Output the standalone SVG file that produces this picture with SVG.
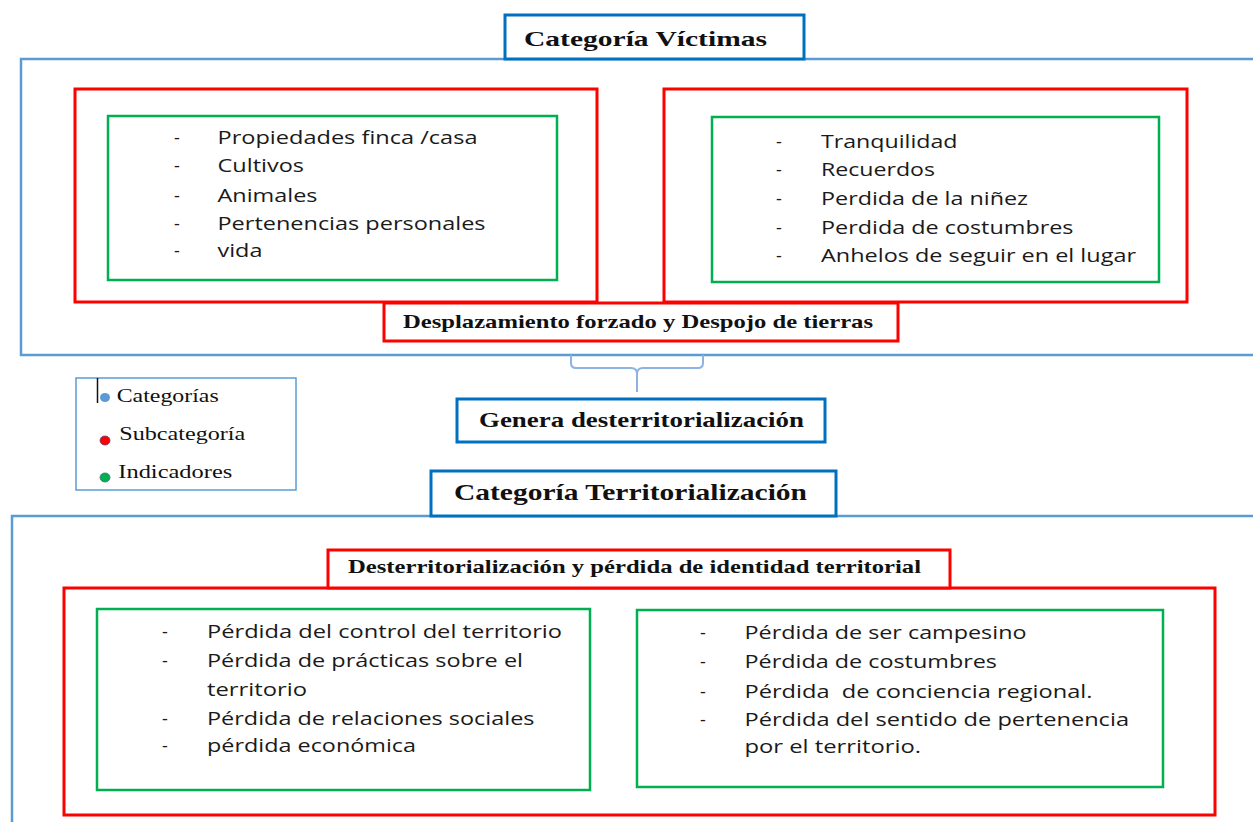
<svg xmlns="http://www.w3.org/2000/svg" width="1253" height="822" viewBox="0 0 1253 822">
<style>
.cat{fill:none;stroke:#5b9bd5;stroke-width:2.5}
.title{fill:#fff;stroke:#0070c0;stroke-width:3}
.sub{fill:none;stroke:#ff0000;stroke-width:3}
.subl{fill:#fff;stroke:#ff0000;stroke-width:3}
.ind{fill:none;stroke:#00b050;stroke-width:2.5}
.tb{font-family:"Liberation Serif","Times New Roman",serif;font-weight:bold;fill:#111}
.tr{font-family:"Liberation Serif","Times New Roman",serif;fill:#111;font-size:19px}
.li{font-family:"Open Sans","Noto Sans","DejaVu Sans",sans-serif;font-size:18px;fill:#1a1a1a}
</style>
<rect width="1253" height="822" fill="#fff"/>
<g id="cat-victimas">
<rect class="cat" x="21" y="59" width="1260" height="296"/>
<rect class="title" x="505" y="15" width="299" height="44"/>
<text class="tb" x="524" y="46" font-size="22" textLength="243" lengthAdjust="spacingAndGlyphs">Categoría Víctimas</text>
</g>
<g id="sub-left-victimas">
<rect class="sub" x="75" y="89" width="522" height="213"/>
</g>
<g id="ind-left-victimas">
<rect class="ind" x="108" y="116" width="449" height="164"/>
<g class="li">
<text x="174" y="144">-</text><text x="217.5" y="144" textLength="260" lengthAdjust="spacingAndGlyphs">Propiedades finca /casa</text>
<text x="174" y="172">-</text><text x="217.5" y="172" textLength="86.5" lengthAdjust="spacingAndGlyphs">Cultivos</text>
<text x="174" y="202">-</text><text x="217.5" y="202" textLength="100" lengthAdjust="spacingAndGlyphs">Animales</text>
<text x="174" y="230">-</text><text x="217.5" y="230" textLength="268" lengthAdjust="spacingAndGlyphs">Pertenencias personales</text>
<text x="174" y="257">-</text><text x="217.5" y="257" textLength="45" lengthAdjust="spacingAndGlyphs">vida</text>
</g>
</g>
<g id="sub-right-victimas">
<rect class="sub" x="664" y="89" width="523" height="213"/>
</g>
<g id="ind-right-victimas">
<rect class="ind" x="712" y="117" width="447" height="165"/>
<g class="li">
<text x="776" y="148">-</text><text x="821" y="148" textLength="136.5" lengthAdjust="spacingAndGlyphs">Tranquilidad</text>
<text x="776" y="176">-</text><text x="821" y="176" textLength="114" lengthAdjust="spacingAndGlyphs">Recuerdos</text>
<text x="776" y="205">-</text><text x="821" y="205" textLength="207" lengthAdjust="spacingAndGlyphs">Perdida de la niñez</text>
<text x="776" y="234">-</text><text x="821" y="234" textLength="252.5" lengthAdjust="spacingAndGlyphs">Perdida de costumbres</text>
<text x="776" y="262">-</text><text x="821" y="262" textLength="315" lengthAdjust="spacingAndGlyphs">Anhelos de seguir en el lugar</text>
</g>
</g>
<g id="sub-desplazamiento">
<rect class="subl" x="384" y="303" width="514" height="38"/>
<text class="tb" x="403" y="328" font-size="19" textLength="470" lengthAdjust="spacingAndGlyphs">Desplazamiento forzado y Despojo de tierras</text>
</g>
<g id="connectors">
<path d="M571,355 L571,363 Q571,368 576,368 L631,368 Q637,368 637,374 L637,392 M637,374 Q637,368 643,368 L698,368 Q703,368 703,363 L703,355" fill="none" stroke="#8db3e2" stroke-width="2"/>
</g>
<g id="legend">
<rect x="76" y="378" width="220" height="112" fill="none" stroke="#5b9bd5" stroke-width="1.5"/>
<line x1="97.5" y1="378" x2="97.5" y2="403" stroke="#111" stroke-width="1.5"/>
<ellipse cx="105" cy="397.5" rx="5" ry="4.5" fill="#5b9bd5"/>
<text class="tr" x="116.7" y="401.5" textLength="102" lengthAdjust="spacingAndGlyphs">Categorías</text>
<ellipse cx="105" cy="440.5" rx="5" ry="4.5" fill="#ff0000" stroke="#5a3f7a" stroke-width="0.8"/>
<text class="tr" x="119.3" y="440" textLength="126" lengthAdjust="spacingAndGlyphs">Subcategoría</text>
<ellipse cx="105" cy="477.5" rx="5" ry="4.5" fill="#00b050" stroke="#3f6f7a" stroke-width="0.8"/>
<text class="tr" x="118.3" y="478" textLength="114" lengthAdjust="spacingAndGlyphs">Indicadores</text>
</g>
<g id="genera">
<rect class="title" x="457" y="399" width="368" height="43"/>
<text class="tb" x="479" y="427" font-size="22" textLength="325" lengthAdjust="spacingAndGlyphs">Genera desterritorialización</text>
</g>
<g id="cat-territorializacion">
<rect class="cat" x="12" y="516" width="1260" height="320"/>
<rect class="title" x="431" y="471" width="405" height="45"/>
<text class="tb" x="454" y="500" font-size="24" textLength="353" lengthAdjust="spacingAndGlyphs">Categoría Territorialización</text>
</g>
<g id="sub-desterritorializacion">
<rect class="sub" x="64" y="588" width="1151" height="227"/>
<rect class="subl" x="328" y="550" width="622" height="38"/>
<text class="tb" x="348" y="573" font-size="19" textLength="573" lengthAdjust="spacingAndGlyphs">Desterritorialización y pérdida de identidad territorial</text>
</g>
<g id="ind-left-territorio">
<rect class="ind" x="97" y="609" width="493" height="181"/>
<g class="li">
<text x="162" y="638">-</text><text x="207" y="638" textLength="355" lengthAdjust="spacingAndGlyphs">Pérdida del control del territorio</text>
<text x="162" y="667">-</text><text x="207" y="667" textLength="316" lengthAdjust="spacingAndGlyphs">Pérdida de prácticas sobre el</text>
<text x="207" y="696" textLength="100" lengthAdjust="spacingAndGlyphs">territorio</text>
<text x="162" y="725">-</text><text x="207" y="725" textLength="327.5" lengthAdjust="spacingAndGlyphs">Pérdida de relaciones sociales</text>
<text x="162" y="752">-</text><text x="207" y="752" textLength="209" lengthAdjust="spacingAndGlyphs">pérdida económica</text>
</g>
</g>
<g id="ind-right-territorio">
<rect class="ind" x="637" y="610" width="526" height="177"/>
<g class="li">
<text x="700" y="639">-</text><text x="744.5" y="639" textLength="282" lengthAdjust="spacingAndGlyphs">Pérdida de ser campesino</text>
<text x="700" y="668">-</text><text x="744.5" y="668" textLength="252.5" lengthAdjust="spacingAndGlyphs">Pérdida de costumbres</text>
<text x="700" y="698">-</text><text x="744.5" y="698" textLength="348" lengthAdjust="spacingAndGlyphs" xml:space="preserve">Pérdida  de conciencia regional.</text>
<text x="700" y="726">-</text><text x="744.5" y="726" textLength="384.5" lengthAdjust="spacingAndGlyphs">Pérdida del sentido de pertenencia</text>
<text x="744.5" y="753" textLength="176.5" lengthAdjust="spacingAndGlyphs">por el territorio.</text>
</g>
</g>
</svg>
